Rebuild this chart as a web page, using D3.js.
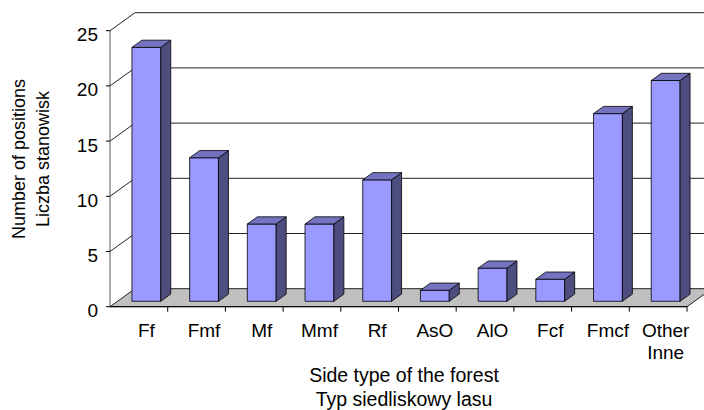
<!DOCTYPE html>
<html>
<head>
<meta charset="utf-8">
<script src="https://cdn.jsdelivr.net/npm/d3@7"></script>
<style>
  html, body { margin: 0; padding: 0; background: #fff; }
  svg { display: block; font-family: "Liberation Sans", Arial, sans-serif; }
</style>
</head>
<body>
<svg id="chart" width="704" height="410"></svg>
<script>
// Forest site types and number of positions found on each
const categories = ["Ff", "Fmf", "Mf", "Mmf", "Rf", "AsO", "AlO", "Fcf", "Fmcf", "Other\nInne"];
const positions = [23, 13, 7, 7, 11, 1, 3, 2, 17, 20];
const yTicks = [0, 5, 10, 15, 20, 25];
const yTitle = ["Number of positions", "Liczba stanowisk"];
const xTitle = ["Side type of the forest", "Typ siedliskowy lasu"];

const svg = d3.select("#chart");

// Oblique 3D projection: z = 0 is the front of the plot box, z = 1 the back wall
const DX = 25, DY = 18;
const x = d3.scaleBand().domain(categories).range([110, 687]).paddingInner(0).paddingOuter(0);
const y = d3.scaleLinear().domain([0, 25]).range([306.7, 30.7]);
const P = (px, v, z) => [px + z * DX, y(v) - z * DY];
const pts = arr => arr.map(p => p.join(",")).join(" ");

const xLeft = x.range()[0], xRight = x.range()[1];

// Back wall gridlines
svg.append("g").selectAll("line").data(yTicks.filter(v => v > 0)).join("line")
  .attr("x1", d => P(xLeft, d, 1)[0]).attr("y1", d => P(xLeft, d, 1)[1])
  .attr("x2", d => P(xRight, d, 1)[0]).attr("y2", d => P(xRight, d, 1)[1])
  .attr("stroke", "#222").attr("stroke-width", 1);

// Side wall gridlines
svg.append("g").selectAll("line").data(yTicks.filter(v => v > 0)).join("line")
  .attr("x1", d => P(xLeft, d, 0)[0]).attr("y1", d => P(xLeft, d, 0)[1])
  .attr("x2", d => P(xLeft, d, 1)[0]).attr("y2", d => P(xLeft, d, 1)[1])
  .attr("stroke", "#222").attr("stroke-width", 1);

// Floor
svg.append("polygon")
  .attr("points", pts([P(xLeft, 0, 0), P(xRight, 0, 0), P(xRight, 0, 1), P(xLeft, 0, 1)]))
  .attr("fill", "#c0c0c0").attr("stroke", "#222").attr("stroke-width", 1);

// Value axis line and ticks
svg.append("line")
  .attr("x1", xLeft).attr("x2", xLeft).attr("y1", y(0)).attr("y2", y(25))
  .attr("stroke", "#555").attr("stroke-width", 1);
svg.append("g").selectAll("line").data(yTicks).join("line")
  .attr("x1", xLeft - 4).attr("x2", xLeft).attr("y1", d => y(d)).attr("y2", d => y(d))
  .attr("stroke", "#000").attr("stroke-width", 1);
svg.append("g").selectAll("text").data(yTicks).join("text")
  .attr("x", 98).attr("y", d => y(d) + 10.5)
  .attr("text-anchor", "end").attr("font-size", 19).attr("fill", "#000")
  .text(d => d);

// Bars: each is a box occupying a slice of the depth
const z0 = 0.3, z1 = 0.7;
const barW = x.bandwidth() * 0.5;
const bars = svg.append("g").selectAll("g").data(categories.map((c, i) => ({ c, v: positions[i] }))).join("g");
bars.each(function (d) {
  const g = d3.select(this);
  const xa = x(d.c) + (x.bandwidth() - barW) / 2, xb = xa + barW;
  // front face
  g.append("polygon")
    .attr("points", pts([P(xa, 0, z0), P(xb, 0, z0), P(xb, d.v, z0), P(xa, d.v, z0)]))
    .attr("fill", "#9999ff").attr("stroke", "#000").attr("stroke-width", 0.8).attr("stroke-linejoin", "round");
  // right side face
  g.append("polygon")
    .attr("points", pts([P(xb, 0, z0), P(xb, 0, z1), P(xb, d.v, z1), P(xb, d.v, z0)]))
    .attr("fill", "#4d4d80").attr("stroke", "#000").attr("stroke-width", 0.8).attr("stroke-linejoin", "round");
  // top face
  g.append("polygon")
    .attr("points", pts([P(xa, d.v, z0), P(xb, d.v, z0), P(xb, d.v, z1), P(xa, d.v, z1)]))
    .attr("fill", "#7373c0").attr("stroke", "#000").attr("stroke-width", 0.8).attr("stroke-linejoin", "round");
});

// Category axis line and ticks
svg.append("line")
  .attr("x1", xLeft).attr("x2", xRight).attr("y1", y(0)).attr("y2", y(0))
  .attr("stroke", "#000").attr("stroke-width", 1);
svg.append("g").selectAll("line").data(categories).join("line")
  .attr("x1", d => x(d) + x.bandwidth()).attr("x2", d => x(d) + x.bandwidth())
  .attr("y1", y(0)).attr("y2", y(0) + 5)
  .attr("stroke", "#000").attr("stroke-width", 1);

// Category labels, centred under the front face of each bar
const catLabels = svg.append("g").selectAll("text").data(categories).join("text")
  .attr("text-anchor", "middle").attr("font-size", 19).attr("fill", "#000")
  .attr("transform", d => `translate(${x(d) + x.bandwidth() / 2 + z0 * DX},336.5)`);
catLabels.selectAll("tspan").data(d => d.split("\n")).join("tspan")
  .attr("x", 0).attr("y", (d, i) => i * 22)
  .text(d => d);

// Axis titles
svg.append("g").selectAll("text").data(xTitle).join("text")
  .attr("x", 404).attr("y", (d, i) => 382 + i * 23.5)
  .attr("text-anchor", "middle").attr("font-size", 19.5).attr("fill", "#000")
  .text(d => d);

svg.append("g").selectAll("text").data(yTitle).join("text")
  .attr("transform", (d, i) => `translate(${25 + i * 24},159) rotate(-90)`)
  .attr("text-anchor", "middle").attr("font-size", 18).attr("fill", "#000")
  .text(d => d);
</script>
</body>
</html>
